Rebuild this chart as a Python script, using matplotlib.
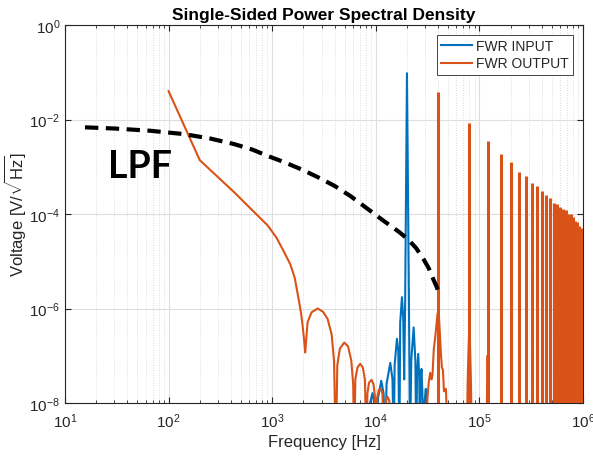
import numpy as np
import matplotlib
matplotlib.use("Agg")
import matplotlib.pyplot as plt
from matplotlib.ticker import FixedLocator, LogLocator, NullLocator, FuncFormatter

plt.rcParams['font.family'] = ['Liberation Sans', 'DejaVu Sans']
plt.rcParams['mathtext.fontset'] = 'custom'
plt.rcParams['mathtext.rm'] = 'Liberation Sans'
plt.rcParams['mathtext.it'] = 'Liberation Sans'

# ---------------- data (frequency in Hz, value exponent log10(V/sqrt(Hz))) ----------------
input_freq = [8400, 8800, 9300, 9800, 10200,
              10500, 11300, 11900, 12300,
              12700, 13800, 14500, 14900,
              15200, 16000, 16500, 16900,
              17200, 17900, 18400, 18800,
              19200, 20000, 20900, 21400,
              22000, 23200, 24100, 24600,
              25000, 25700, 26300, 26600,
              27000, 27600, 28200, 28800,
              29500, 30400, 31200, 31800]
input_exp = [-9, -8.0, -7.79, -8.1, -9,
             -7.9, -7.53, -7.8, -9,
             -7.6, -7.15, -7.5, -9,
             -7.2, -6.64, -6.9, -9,
             -6.3, -5.76, -6.2, -7.5,
             -5.9, -1.02, -5.9, -9,
             -7.1, -6.4, -7.1, -9,
             -7.4, -6.96, -7.5, -9,
             -7.6, -7.28, -7.8, -9,
             -8.0, -7.70, -8.2, -9]

output_freq = [100, 200, 430, 623, 903, 1100, 1300, 1500, 1650, 1800, 1900, 1966, 2040, 2083,
               2196, 2400, 2744, 3100, 3427, 3750, 3950, 4120,
               4250, 4500, 4960, 5400, 5800, 6050, 6190,
               6350, 6650, 7070, 7500, 7850, 8140,
               8300, 8600, 9110, 9500, 9800, 10000,
               10300, 10700, 11200, 11600, 12000,
               12500, 13000, 13500, 14000,
               30500, 31500, 32500, 33500, 34500, 35300, 36300, 37500, 39500,
               40500, 41500, 42500, 43500, 44500, 45500, 46500, 47500, 48500, 49500,
               75500, 77000, 78500, 79600, 80400, 81500, 83000, 84500,
               117000, 118500, 119500, 120500, 121500, 123000]
output_exp = [-1.40, -2.86, -3.54, -3.89, -4.24, -4.50, -4.80, -5.07, -5.35, -5.80, -6.10, -6.36, -6.70, -6.93,
              -6.29, -6.08, -6.00, -6.07, -6.22, -6.55, -7.1, -9,
              -7.2, -6.85, -6.72, -6.8, -7.1, -7.6, -9,
              -7.5, -7.25, -7.17, -7.25, -7.5, -9,
              -7.8, -7.57, -7.51, -7.6, -7.85, -9,
              -7.9, -7.72, -7.70, -7.8, -9,
              -7.95, -7.87, -7.95, -9,
              -9, -7.9, -7.55, -7.36, -7.5, -7.4, -6.86, -6.6, -6.1,
              -6.1, -6.5, -6.95, -7.25, -7.3, -7.75, -7.75, -7.7, -8.2, -9,
              -9, -7.6, -6.9, -6.5, -6.5, -6.9, -7.6, -9,
              -9, -7.8, -7.0, -7.0, -7.8, -9]

# harmonics of the rectified output (k * 40 kHz) and their peak exponents
harm_freq = [40e3 * k for k in range(1, 26)]
harm_exp = [-1.41, -2.07, -2.46, -2.72, -2.89, -3.10, -3.19, -3.35, -3.41, -3.52,
            -3.60, -3.66, -3.77, -3.79, -3.85, -3.90, -3.92, -3.99, -4.01, -4.06,
            -4.14, -4.16, -4.25, -4.30, -4.31]

lpf_freq = [15.6, 30, 66, 139, 250, 430, 650, 903, 1300, 1890, 2700, 3970, 5700, 8330,
            11500, 16800, 20300, 24500, 28800, 32500, 35900, 38500, 41000]
lpf_exp = [-2.165, -2.19, -2.237, -2.307, -2.40, -2.52, -2.64, -2.77, -2.90, -3.05, -3.21, -3.40,
           -3.62, -3.89, -4.12, -4.38, -4.53, -4.72, -4.95, -5.15, -5.38, -5.53, -5.69]

floor_val = 1e-9

# ---------------- plot ----------------
blue = '#0072BD'
orange = '#D95319'
axcol = '#262626'

fig = plt.figure(figsize=(5.93, 4.60), dpi=100)
ax = fig.add_axes([0.1096, 0.1217, 0.8735, 0.8217])

ax.plot(input_freq, 10.0 ** np.array(input_exp), color=blue, lw=1.5, label='FWR INPUT', zorder=3)
ax.plot(output_freq, 10.0 ** np.array(output_exp), color=orange, lw=1.5, label='FWR OUTPUT', zorder=3)
ax.vlines(harm_freq, floor_val, 10.0 ** np.array(harm_exp), color=orange, lw=2.2, zorder=3)
ax.plot(lpf_freq, 10.0 ** np.array(lpf_exp), color='black', lw=3.0, ls=(0, (3.2, 1.8)), zorder=4)

ax.set_xscale('log')
ax.set_yscale('log')
ax.set_xlim(10, 1e6)
ax.set_ylim(1e-8, 1)

ax.xaxis.set_major_locator(LogLocator(base=10, numticks=10))
ax.xaxis.set_minor_locator(LogLocator(base=10, subs=np.arange(2, 10), numticks=20))
ax.yaxis.set_major_locator(FixedLocator([1e-8, 1e-6, 1e-4, 1e-2, 1]))
ax.yaxis.set_minor_locator(NullLocator())

fmt = FuncFormatter(lambda v, p: r'$\mathregular{10^{%d}}$' % int(round(np.log10(v))))
ax.xaxis.set_major_formatter(fmt)
ax.yaxis.set_major_formatter(fmt)

ax.grid(True, which='major', color='#dedede', lw=0.8, ls='-')
ax.grid(True, which='minor', axis='x', color='#d0d0d0', lw=0.6, ls=(0, (1, 2)))
ax.set_axisbelow(True)

ax.tick_params(which='both', direction='in', top=True, right=True, colors=axcol, labelsize=11)
ax.tick_params(which='major', length=4, width=0.8)
ax.tick_params(which='minor', length=2.5, width=0.6)
ax.tick_params(axis='x', pad=6)
for s in ax.spines.values():
    s.set_color('#262626')
    s.set_linewidth(0.8)

ax.set_title('Single-Sided Power Spectral Density', fontsize=12.5, fontweight='bold', color='black', pad=4)
ax.set_xlabel('Frequency [Hz]', fontsize=12, color=axcol, labelpad=3)
ax.set_ylabel(r'Voltage [V/$\sqrt{\mathregular{Hz}}$]', fontsize=12, color=axcol, labelpad=1)

ax.text(0.145, 0.627, 'LPF', transform=ax.transAxes, fontsize=27, fontweight='bold',
        family=['Lato', 'DejaVu Sans'], ha='center', va='center', color='black')

leg = ax.legend(loc='upper right', fontsize=10, frameon=True, fancybox=False,
                edgecolor='#262626', framealpha=1, handlelength=2.25, handletextpad=0.3,
                borderpad=0.3, labelspacing=0.25, borderaxespad=0.7)
leg.get_frame().set_linewidth(0.6)
for t in leg.get_texts():
    t.set_color(axcol)

fig.savefig('out.png', dpi=100)
